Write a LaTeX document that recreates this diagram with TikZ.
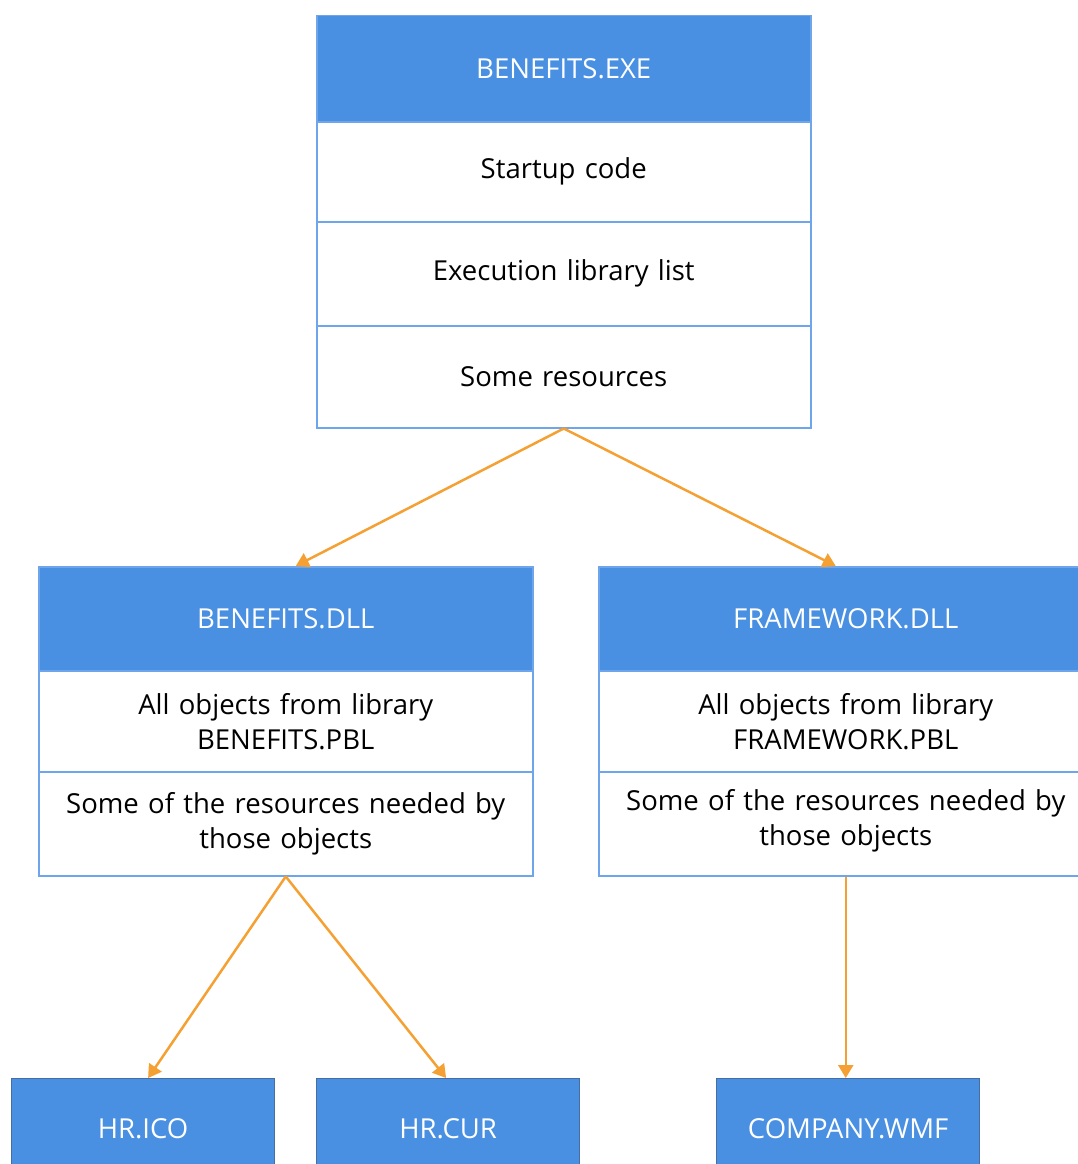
\documentclass[tikz,border=0pt]{standalone}
\usepackage{fontspec}
\setmainfont{Open Sans}[WordSpace=1.3]
\usetikzlibrary{arrows.meta,calc}
\definecolor{hblue}{RGB}{74,144,226}
\definecolor{lblue}{RGB}{110,165,235}
\definecolor{dblue}{RGB}{70,110,160}
\definecolor{arrorange}{RGB}{245,160,50}
\newcommand{\fsz}{\fontsize{27.5pt}{35pt}\selectfont}
\tikzset{
  hdr/.style={rectangle, fill=hblue, draw=lblue, line width=1.5pt, minimum width=494pt, minimum height=106pt, anchor=north west, inner sep=0pt, text=white, font=\fsz},
  rowbox/.style={rectangle, fill=white, draw=lblue, line width=1.5pt, minimum width=494pt, anchor=north west, inner sep=0pt, align=center, font=\fsz},
  leaf/.style={rectangle, fill=hblue, draw=dblue, line width=1.2pt, minimum width=263pt, minimum height=100pt, anchor=north west, inner sep=0pt, text=white, font=\fsz},
  arr/.style={draw=arrorange, line width=2.5pt, -{Triangle[width=15pt,length=13pt]}}
}
\begin{document}
\begin{tikzpicture}[x=1pt,y=-1pt]
\useasboundingbox (0,0) rectangle (1078,1164);
\clip (0,0) rectangle (1078,1164);
% top box
\node[hdr] (exe) at (316,15) {BENEFITS.EXE};
\node[rowbox, minimum height=100pt] (start) at (316,121) {Startup code};
\node[rowbox, minimum height=104pt] (elist) at (316,221) {Execution library list};
\node[rowbox, minimum height=102pt] (sres) at (316,325) {Some resources};
% benefits dll
\node[hdr, minimum height=104pt] (bdll) at (38,566) {BENEFITS.DLL};
\node[rowbox, minimum height=101pt] (bobj) at (38,670) {All objects from library\\BENEFITS.PBL};
\node[rowbox, minimum height=104pt] (bres) at (38,771) {Some of the resources needed by\\those objects};
% framework dll
\node[hdr, minimum height=104pt] (fdll) at (598,566) {FRAMEWORK.DLL};
\node[rowbox, minimum height=101pt] (fobj) at (598,670) {All objects from library\\FRAMEWORK.PBL};
\node[rowbox, minimum height=104pt, text depth=12pt] (fres) at (598,771) {Some of the resources needed by\\those objects};
% leaves
\node[leaf] (ico) at (11,1078) {HR.ICO};
\node[leaf] (cur) at (316,1078) {HR.CUR};
\node[leaf] (wmf) at (716,1078) {COMPANY.WMF};
% connectors
\draw[arr] (sres.south) -- ([xshift=10pt]bdll.north);
\draw[arr] (sres.south) -- ([xshift=-10pt]fdll.north);
\draw[arr] (bres.south) -- ([xshift=5pt]ico.north);
\draw[arr] (bres.south) -- ([xshift=-2pt]cur.north);
\draw[arr] (fres.south) -- (fres.south |- wmf.north);
\end{tikzpicture}
\end{document}
